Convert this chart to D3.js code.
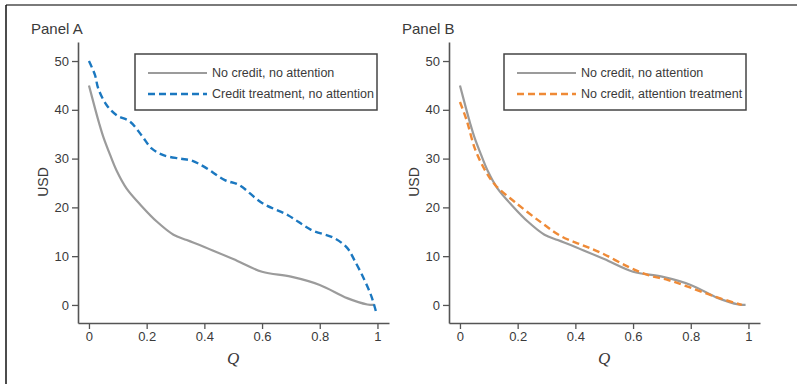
<!DOCTYPE html>
<html>
<head>
<meta charset="utf-8">
<script src="https://cdn.jsdelivr.net/npm/d3@7"></script>
<style>
  body { margin: 0; background: #fff; }
  svg { display: block; font-family: 'Liberation Sans', Arial, sans-serif; }
</style>
</head>
<body>
<svg id="chart" width="797" height="384"></svg>
<script>
// Q grid and USD values
const qBase = [0, 0.021, 0.035, 0.05, 0.073, 0.096, 0.13, 0.182, 0.235, 0.293, 0.339, 0.4, 0.5, 0.6, 0.7, 0.8, 0.895, 0.965, 0.99];
const noCreditNoAttention = [45, 40.3, 37.3, 34.4, 30.8, 27.5, 23.9, 20.3, 17.1, 14.4, 13.3, 11.9, 9.4, 6.8, 5.8, 4.1, 1.4, 0.1, 0];

const qCredit = [0, 0.021, 0.032, 0.061, 0.096, 0.142, 0.182, 0.217, 0.258, 0.316, 0.355, 0.4, 0.471, 0.52, 0.6, 0.69, 0.77, 0.85, 0.895, 0.92, 0.955, 0.98, 0.995];
const creditNoAttention = [50, 47.1, 44.4, 41, 38.9, 37.6, 34.8, 32.1, 30.7, 30, 29.6, 28.3, 25.6, 24.6, 20.9, 18.4, 15.4, 13.7, 11.7, 9.2, 5.1, 1.6, -1.4];

const qAttention = [0, 0.023, 0.052, 0.087, 0.122, 0.19, 0.284, 0.353, 0.423, 0.492, 0.584, 0.653, 0.722, 0.792, 0.884, 0.977];
const noCreditAttention = [41.6, 37.9, 32, 27.6, 24.6, 21.1, 16.8, 14, 12.3, 10.6, 7.8, 6.1, 5.1, 3.7, 1.7, 0];

const xTicks = [0, 0.2, 0.4, 0.6, 0.8, 1];
const yTicks = [0, 10, 20, 30, 40, 50];

const colors = { gray: '#9b9b9b', blue: '#1b78c0', orange: '#ef8a36', axis: '#555', text: '#3a3a3a' };

const zip = (xs, ys) => xs.map((x, i) => ({ q: x, v: ys[i] }));

const panels = [
  {
    title: 'Panel A', left: 78, legend: { x: 135, w: 242 },
    series: [
      { name: 'No credit, no attention', data: zip(qBase, noCreditNoAttention), color: colors.gray, dash: null, width: 2.2 },
      { name: 'Credit treatment, no attention', data: zip(qCredit, creditNoAttention), color: colors.blue, dash: '7,4', width: 2.4 },
    ],
  },
  {
    title: 'Panel B', left: 449, legend: { x: 504, w: 242 },
    series: [
      { name: 'No credit, no attention', data: zip(qBase, noCreditNoAttention), color: colors.gray, dash: null, width: 2.2 },
      { name: 'No credit, attention treatment', data: zip(qAttention, noCreditAttention), color: colors.orange, dash: '7,4', width: 2.4 },
    ],
  },
];

const svg = d3.select('#chart');

// outer frame: top rule and left rule
svg.append('line').attr('x1', 6).attr('x2', 797).attr('y1', 5).attr('y2', 5)
  .attr('stroke', '#7a7a7a').attr('stroke-width', 2);
svg.append('line').attr('x1', 6).attr('x2', 6).attr('y1', 5).attr('y2', 384)
  .attr('stroke', '#111').attr('stroke-width', 1.5);

function drawPanel(p) {
  const top = 42, bottom = 323;
  const width = 311;

  const xScale = d3.scaleLinear().domain([-0.038, 1.04]).range([p.left, p.left + width]);
  const yScale = d3.scaleLinear().domain([-3.7, 53.9]).range([bottom, top]);

  const g = svg.append('g');

  // Axes
  const xAxis = d3.axisBottom(xScale).tickValues(xTicks).tickSizeInner(6).tickSizeOuter(0).tickPadding(3)
    .tickFormat(d3.format('~g'));
  const yAxis = d3.axisLeft(yScale).tickValues(yTicks).tickSizeInner(6).tickSizeOuter(0).tickPadding(3);

  const gx = g.append('g').attr('transform', 'translate(0,' + bottom + ')').call(xAxis);
  const gy = g.append('g').attr('transform', 'translate(' + p.left + ',0)').call(yAxis);

  [gx, gy].forEach((ax) => {
    ax.select('.domain').attr('stroke', colors.axis).attr('stroke-width', 1.6);
    ax.selectAll('.tick line').attr('stroke', colors.axis).attr('stroke-width', 1.3);
    ax.selectAll('.tick text').attr('fill', colors.text)
      .style('font-size', '13px').style('font-family', "'Liberation Sans', Arial, sans-serif");
  });

  // Labels
  g.append('text')
    .attr('x', p.left - 47).attr('y', 34)
    .attr('fill', colors.text).style('font-size', '15px')
    .text(p.title);

  g.append('text')
    .attr('transform', 'translate(' + (p.left - 35) + ',182) rotate(-90)')
    .attr('text-anchor', 'middle').attr('dominant-baseline', 'central')
    .attr('fill', colors.text).style('font-size', '14px')
    .text('USD');

  g.append('text')
    .attr('x', xScale(0.5)).attr('y', 364)
    .attr('text-anchor', 'middle')
    .attr('fill', colors.text).style('font-size', '17px')
    .style('font-family', "'Liberation Serif', 'Times New Roman', serif").style('font-style', 'italic')
    .text('Q');

  // Lines
  const line = d3.line()
    .x((d) => xScale(d.q))
    .y((d) => yScale(d.v))
    .curve(d3.curveCatmullRom.alpha(0.5));

  p.series.forEach((s) => {
    g.append('path')
      .datum(s.data)
      .attr('fill', 'none')
      .attr('stroke', s.color)
      .attr('stroke-width', s.width)
      .attr('stroke-dasharray', s.dash)
      .attr('d', line);
  });

  // Legend
  const lg = g.append('g').attr('transform', 'translate(' + p.legend.x + ',54)');
  lg.append('rect').attr('width', p.legend.w).attr('height', 56)
    .attr('fill', '#fff').attr('stroke', '#444').attr('stroke-width', 1.5);
  p.series.forEach((s, i) => {
    const y = 19 + i * 21;
    lg.append('line').attr('x1', 13).attr('x2', 72).attr('y1', y).attr('y2', y)
      .attr('stroke', s.color).attr('stroke-width', s.width).attr('stroke-dasharray', s.dash);
    lg.append('text').attr('x', 77).attr('y', y).attr('dominant-baseline', 'central')
      .attr('fill', colors.text).style('font-size', '12.5px')
      .text(s.name);
  });
}

panels.forEach(drawPanel);
</script>
</body>
</html>
